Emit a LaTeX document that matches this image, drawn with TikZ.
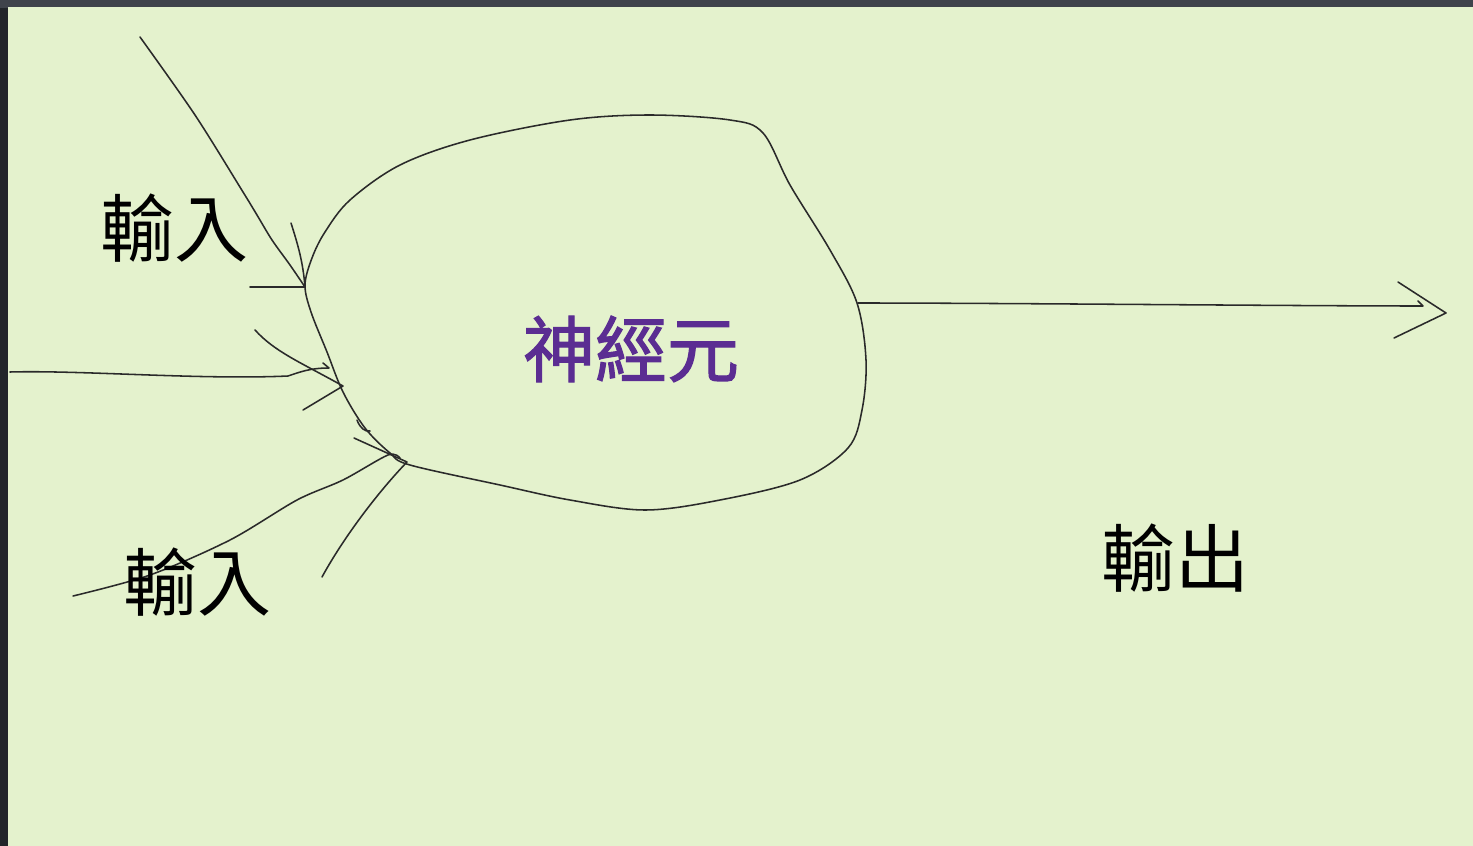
\documentclass[tikz,border=0pt]{standalone}
\usepackage{fontspec}
\newfontfamily\cjk{Noto Sans CJK TC}
\newfontfamily\cjkmid[FakeBold=1.6]{Noto Sans CJK TC}
\definecolor{paper}{HTML}{E4F2CD}
\definecolor{frametop}{HTML}{3F434B}
\definecolor{frameleft}{HTML}{22252A}
\definecolor{ink}{HTML}{2A2A2A}
\definecolor{neuron}{HTML}{5B2D92}
\tikzset{
  pen/.style={draw=ink, line width=1.55pt, line cap=round, line join=round},
  label/.style={inner sep=0pt, font=\cjk\fontsize{74}{80}\selectfont, text=black},
  title/.style={inner sep=0pt, font=\cjkmid\fontsize{72}{78}\selectfont, text=neuron}
}
\begin{document}
\begin{tikzpicture}[x=1pt, y=-1pt]
\useasboundingbox (0,0) rectangle (1473,846);
% screen frame and paper
\fill[frameleft] (0,0) rectangle (1473,846);
\fill[frametop] (0,0) rectangle (1473,8);
\fill[paper] (8,7) rectangle (1473,846);

% the neuron body
\draw[pen] plot[smooth cycle, tension=0.55] coordinates {
  (305,285) (312,258) (325,232) (350,200) (400,165) (470,140) (570,120)
  (650,115) (730,120) (763,133) (790,185) (830,250) (857,303) (866,360)
  (862,410) (848,448) (800,480) (720,500) (645,510) (570,500) (500,485)
  (410,465) (390,453) (365,428) (343,392) (327,352) (311,312)};

% named points where inputs meet the body and the output leaves it
\coordinate (in1) at (305,287);
\coordinate (in2) at (343,386);
\coordinate (in3) at (407,462);
\coordinate (out) at (858,303);
\coordinate (tip) at (1446,313);

% input 1, from the top
\coordinate (s1) at (140,37);
\draw[pen] plot[smooth, tension=0.5] coordinates {(s1) (195,115) (243,192) (257,215) (272,240) (290,265) (in1)};
\coordinate (h1a) at (291,223);
\coordinate (h1b) at (250,287);
\draw[pen] (h1a) .. controls (298,245) and (303,262) .. (in1) -- (h1b);

% input 2, from the left
\coordinate (s2) at (10,372);
\draw[pen] (s2) .. controls (80,370) and (200,380) .. (288,376) .. controls (300,372) and (310,368) .. (329,368) -- (323,363);
\coordinate (h2a) at (255,330);
\coordinate (h2b) at (303,410);
\draw[pen] (h2a) .. controls (275,352) and (300,362) .. (in2) -- (h2b);
\draw[pen] (357,420) .. controls (360,428) and (365,432) .. (370,431);

% input 3, from the lower left
\coordinate (s3) at (73,596);
\draw[pen] plot[smooth, tension=0.5] coordinates {(s3) (150,575) (230,540) (297,500) (343,480) (388,455) (400,458)};
\coordinate (h3a) at (354,438);
\coordinate (h3b) at (322,577);
\draw[pen] (h3a) -- (in3) .. controls (380,490) and (345,535) .. (h3b);

% output
\draw[pen] (out) .. controls (1000,303) and (1300,306) .. (1423,306) -- (1418,301);
\draw[pen] (1398,282) -- (tip) -- (1394,338);

% labels
\node[label] (lin1) at (174,228) {輸入};
\node[label] (lin2) at (197,582) {輸入};
\node[label] (lout) at (1175,558) {輸出};
\node[title] (body) at (631,349) {神經元};
\end{tikzpicture}
\end{document}
